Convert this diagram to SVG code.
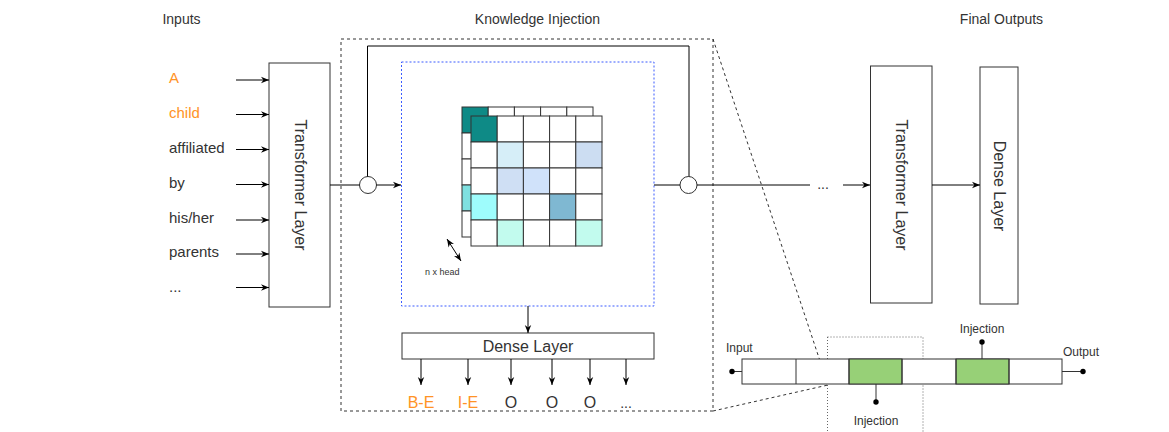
<svg xmlns="http://www.w3.org/2000/svg" width="1169" height="432" viewBox="0 0 1169 432">
<defs>
<marker id="arr" viewBox="0 0 10 10" refX="10" refY="5" markerWidth="8" markerHeight="8" markerUnits="userSpaceOnUse" orient="auto"><path d="M0,1 L10,5 L0,9 L3,5 Z" fill="#000"/></marker>
<marker id="arr2" viewBox="0 0 10 10" refX="10" refY="5" markerWidth="8" markerHeight="8" markerUnits="userSpaceOnUse" orient="auto-start-reverse"><path d="M0,1 L10,5 L0,9 L3,5 Z" fill="#000"/></marker>
</defs>
<style>
text{font-family:"Liberation Sans",Arial,sans-serif;fill:#333}
.t{font-size:14px}
.w{font-size:15px}
.o{font-size:16px}
.org{fill:#FF9326}
.box{fill:#fff;stroke:#333;stroke-width:1}
.ln{stroke:#000;stroke-width:1;fill:none}
.ar{stroke:#000;stroke-width:1;fill:none;marker-end:url(#arr)}
.cell{stroke:#333;stroke-width:1}
.c{font-size:16px}
</style>
<rect width="1169" height="432" fill="#fff"/>

<g id="titles">
<text class="t" x="181.5" y="24" text-anchor="middle">Inputs</text>
<text class="t" x="537.5" y="24" text-anchor="middle">Knowledge Injection</text>
<text class="t" x="1001.5" y="24" text-anchor="middle">Final Outputs</text>
</g>

<g id="inputs">
<text class="w org" x="169" y="83">A</text>
<text class="w org" x="169" y="118">child</text>
<text class="w" x="169" y="153">affiliated</text>
<text class="w" x="169" y="188">by</text>
<text class="w" x="169" y="223">his/her</text>
<text class="w" x="169" y="257">parents</text>
<text class="w" x="169" y="292">...</text>
</g>

<g id="knowledge-box">
<rect x="341" y="39" width="372" height="372" fill="none" stroke="#333" stroke-dasharray="3,3"/>
<rect x="401.5" y="62" width="252.5" height="244" fill="none" stroke="#3B5BFF" stroke-dasharray="2,2"/>
</g>

<g id="transformer-left">
<rect class="box" x="269" y="63" width="61" height="244"/>
<text class="c" transform="translate(300,185) rotate(90)" text-anchor="middle" dy="5.5">Transformer Layer</text>
</g>

<g id="matrix">
<g id="back-grid" fill="#fff">
<rect class="cell" x="462" y="107" width="26.2" height="26" fill="#0E8A86"/>
<rect class="cell" x="488.2" y="107" width="26.2" height="26"/>
<rect class="cell" x="514.4" y="107" width="26.2" height="26"/>
<rect class="cell" x="540.6" y="107" width="26.2" height="26"/>
<rect class="cell" x="566.8" y="107" width="26.2" height="26"/>
<rect class="cell" x="462" y="133" width="26.2" height="26"/>
<rect class="cell" x="462" y="159" width="26.2" height="26"/>
<rect class="cell" x="462" y="185" width="26.2" height="26" fill="#7FE0E0"/>
<rect class="cell" x="462" y="211" width="26.2" height="26"/>
</g>
<g id="front-grid" fill="#fff">
<rect class="cell" x="471" y="116" width="26.2" height="26" fill="#0E8A86"/>
<rect class="cell" x="497.2" y="116" width="26.2" height="26"/>
<rect class="cell" x="523.4" y="116" width="26.2" height="26"/>
<rect class="cell" x="549.6" y="116" width="26.2" height="26"/>
<rect class="cell" x="575.8" y="116" width="26.2" height="26"/>
<rect class="cell" x="471" y="142" width="26.2" height="26"/>
<rect class="cell" x="497.2" y="142" width="26.2" height="26" fill="#D6EEF8"/>
<rect class="cell" x="523.4" y="142" width="26.2" height="26"/>
<rect class="cell" x="549.6" y="142" width="26.2" height="26"/>
<rect class="cell" x="575.8" y="142" width="26.2" height="26" fill="#CCDDF2"/>
<rect class="cell" x="471" y="168" width="26.2" height="26"/>
<rect class="cell" x="497.2" y="168" width="26.2" height="26" fill="#CFDFF4"/>
<rect class="cell" x="523.4" y="168" width="26.2" height="26" fill="#D0E2FA"/>
<rect class="cell" x="549.6" y="168" width="26.2" height="26"/>
<rect class="cell" x="575.8" y="168" width="26.2" height="26"/>
<rect class="cell" x="471" y="194" width="26.2" height="26" fill="#9EFCFC"/>
<rect class="cell" x="497.2" y="194" width="26.2" height="26"/>
<rect class="cell" x="523.4" y="194" width="26.2" height="26"/>
<rect class="cell" x="549.6" y="194" width="26.2" height="26" fill="#7FB8D2"/>
<rect class="cell" x="575.8" y="194" width="26.2" height="26"/>
<rect class="cell" x="471" y="220" width="26.2" height="26"/>
<rect class="cell" x="497.2" y="220" width="26.2" height="26" fill="#C2FBEE"/>
<rect class="cell" x="523.4" y="220" width="26.2" height="26"/>
<rect class="cell" x="549.6" y="220" width="26.2" height="26"/>
<rect class="cell" x="575.8" y="220" width="26.2" height="26" fill="#C2FBEE"/>
</g>
<line x1="447" y1="239" x2="461" y2="261" stroke="#000" marker-start="url(#arr2)" marker-end="url(#arr2)"/>
<text x="425" y="275" style="font-size:9px">n x head</text>
</g>

<g id="dense-mid">
<rect class="box" x="402" y="333" width="252" height="26"/>
<text class="c" x="528" y="352" text-anchor="middle">Dense Layer</text>
</g>

<g id="labels-out">
<text class="o org" x="421" y="408" text-anchor="middle">B-E</text>
<text class="o org" x="468" y="408" text-anchor="middle">I-E</text>
<text class="o" x="511" y="408" text-anchor="middle">O</text>
<text class="o" x="552" y="408" text-anchor="middle">O</text>
<text class="o" x="590" y="408" text-anchor="middle">O</text>
<text class="t" x="626" y="408" text-anchor="middle">...</text>
</g>

<g id="circle-left"><circle cx="368" cy="185" r="8.5" fill="#fff" stroke="#333"/></g>
<g id="circle-right"><circle cx="688.5" cy="185" r="8.5" fill="#fff" stroke="#333"/></g>

<g id="transformer-right">
<rect class="box" x="870.5" y="66" width="61.5" height="237"/>
<text class="c" transform="translate(901,185) rotate(90)" text-anchor="middle" dy="5.5">Transformer Layer</text>
</g>
<g id="dense-right">
<rect class="box" x="980" y="67" width="38" height="237"/>
<text class="c" transform="translate(999,186) rotate(90)" text-anchor="middle" dy="5.5">Dense Layer</text>
</g>

<g id="connectors">
<line class="ar" x1="236" y1="80" x2="269" y2="80"/>
<line class="ar" x1="236" y1="114.5" x2="269" y2="114.5"/>
<line class="ar" x1="236" y1="149.5" x2="269" y2="149.5"/>
<line class="ar" x1="236" y1="184.5" x2="269" y2="184.5"/>
<line class="ar" x1="236" y1="220" x2="269" y2="220"/>
<line class="ar" x1="236" y1="254" x2="269" y2="254"/>
<line class="ar" x1="236" y1="287.5" x2="269" y2="287.5"/>
<line class="ln" x1="330" y1="185" x2="359.5" y2="185"/>
<line class="ar" x1="376.5" y1="185" x2="401" y2="185"/>
<polyline class="ln" points="367.5,176.5 367.5,46 689,46 689,176.5" stroke="#333"/>
<line class="ln" x1="654" y1="185" x2="680" y2="185"/>
<line class="ln" x1="697" y1="185" x2="810" y2="185"/>
<text class="t" x="823" y="189" text-anchor="middle" fill="#333">...</text>
<line class="ar" x1="843" y1="185" x2="870" y2="185"/>
<line class="ar" x1="932" y1="185" x2="980" y2="185"/>
<line class="ar" x1="528" y1="306" x2="528" y2="333"/>
<line class="ar" x1="421" y1="359" x2="421" y2="385"/>
<line class="ar" x1="468" y1="359" x2="468" y2="385"/>
<line class="ar" x1="511" y1="359" x2="511" y2="385"/>
<line class="ar" x1="552" y1="359" x2="552" y2="385"/>
<line class="ar" x1="590" y1="359" x2="590" y2="385"/>
<line class="ar" x1="626" y1="359" x2="626" y2="385"/>
<line x1="713" y1="39" x2="828" y2="385" stroke="#333" stroke-dasharray="3,3"/>
<line x1="713" y1="411" x2="828" y2="385" stroke="#333" stroke-dasharray="3,3"/>
</g>

<g id="zoom-box">
<rect x="827.5" y="337" width="95.5" height="100" fill="none" stroke="#666" stroke-dasharray="1,2"/>
</g>

<g id="bar">
<rect x="742" y="359" width="320" height="25" fill="#fff" stroke="#333"/>
<rect x="849" y="359" width="53" height="25" fill="#97D077" stroke="#333"/>
<rect x="956" y="359" width="53" height="25" fill="#97D077" stroke="#333"/>
<line x1="796" y1="359" x2="796" y2="384" stroke="#333"/>
<line x1="849" y1="359" x2="849" y2="384" stroke="#333"/>
<line x1="902" y1="359" x2="902" y2="384" stroke="#333"/>
<line x1="956" y1="359" x2="956" y2="384" stroke="#333"/>
<line x1="1009" y1="359" x2="1009" y2="384" stroke="#333"/>
<line x1="732" y1="371.5" x2="742" y2="371.5" stroke="#333"/>
<circle cx="732" cy="371.5" r="2.7" fill="#000"/>
<line x1="1062" y1="371.5" x2="1083" y2="371.5" stroke="#333"/>
<circle cx="1083" cy="371.5" r="2.7" fill="#000"/>
<line x1="982" y1="342" x2="982" y2="359" stroke="#333"/>
<circle cx="982" cy="342" r="2.7" fill="#000"/>
<line x1="876" y1="384" x2="876" y2="402" stroke="#333"/>
<circle cx="876" cy="402" r="2.7" fill="#000"/>
<text x="726" y="352" style="font-size:12px">Input</text>
<text x="1063" y="356" style="font-size:12px">Output</text>
<text x="982" y="333" text-anchor="middle" style="font-size:12px">Injection</text>
<text x="876" y="425" text-anchor="middle" style="font-size:12px">Injection</text>
</g>
</svg>
